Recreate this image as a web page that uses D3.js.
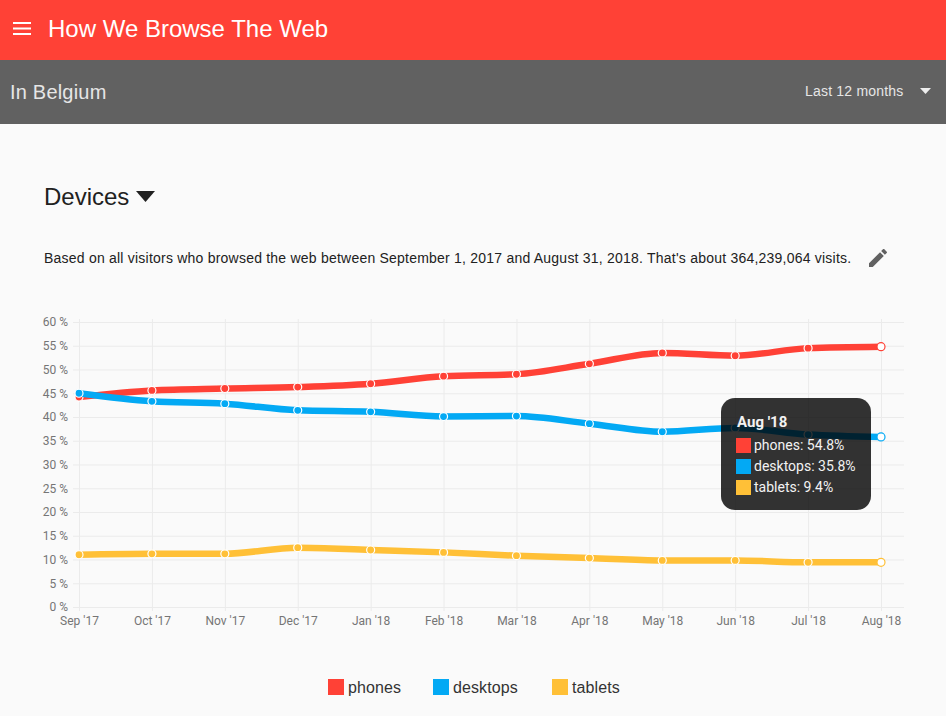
<!DOCTYPE html>
<html>
<head>
<meta charset="utf-8">
<script src="https://cdn.jsdelivr.net/npm/d3@7"></script>
<style>
    html, body { margin: 0; padding: 0; background: #fafafa; }
    svg { display: block; }
    text { font-family: "Liberation Sans", sans-serif; }
    .axis text { font-family: Roboto, sans-serif; font-size: 12px; fill: #757575; }
    .axis line { stroke: #ebebeb; }
    .axis path { display: none; }
    .tip text { font-family: Roboto, sans-serif; fill: #f2f2f2; }
</style>
</head>
<body>
<svg id="chart" width="946" height="716"></svg>
<script>
var months = ["Sep '17", "Oct '17", "Nov '17", "Dec '17", "Jan '18", "Feb '18", "Mar '18", "Apr '18", "May '18", "Jun '18", "Jul '18", "Aug '18"];
var phones = [44.2, 45.6, 46.0, 46.3, 47.0, 48.6, 49.0, 51.2, 53.5, 52.9, 54.5, 54.8];
var desktops = [45.0, 43.3, 42.8, 41.4, 41.1, 40.1, 40.2, 38.6, 36.9, 37.7, 36.3, 35.8];
var tablets = [11.0, 11.2, 11.2, 12.5, 12.0, 11.5, 10.8, 10.3, 9.8, 9.8, 9.4, 9.4];
var yTicks = [0, 5, 10, 15, 20, 25, 30, 35, 40, 45, 50, 55, 60];

var seriesNames = ['phones', 'desktops', 'tablets'];
var seriesValues = [phones, desktops, tablets];
var colors = ['#ff4136', '#03a9f4', '#ffc037'];
var tipLabels = ['54.8%', '35.8%', '9.4%'];

var svg = d3.select('#chart');

// header bars
svg.append('rect').attr('width', 946).attr('height', 60).attr('fill', '#ff4136');
svg.append('rect').attr('y', 60).attr('width', 946).attr('height', 64).attr('fill', '#616161');

svg.selectAll('.burger').data([23, 28.5, 34]).enter().append('rect')
    .attr('class', 'burger')
    .attr('x', 13).attr('y', function(d) { return d - 1; })
    .attr('width', 18).attr('height', 2)
    .attr('fill', '#fff');

function label(x, y, str, size, color, spacing) {
    return svg.append('text').attr('x', x).attr('y', y)
        .attr('font-size', size).attr('fill', color)
        .attr('letter-spacing', spacing || 0).text(str);
}

label(48, 37, 'How We Browse The Web', 24, '#fff');
label(10, 99, 'In Belgium', 20, '#e6e6e6', 0.2);
label(805, 96, 'Last 12 months', 14, '#e6e6e6', 0.2);
svg.append('path').attr('d', 'M920 88L931 88L925.5 94Z').attr('fill', '#eee');

label(44, 205, 'Devices', 24, '#212121');
svg.append('path').attr('d', 'M136 191L155 191L145.5 202Z').attr('fill', '#212121');

label(44, 263, "Based on all visitors who browsed the web between September 1, 2017 and August 31, 2018. That's about 364,239,064 visits.", 14, '#212121', 0.22);
svg.append('path')
    .attr('transform', 'translate(866,246)')
    .attr('fill', '#616161')
    .attr('d', 'M3 17.25V21h3.75L17.81 9.94l-3.75-3.75L3 17.25zM20.71 7.04c.39-.39.39-1.02 0-1.41l-2.34-2.34c-.39-.39-1.02-.39-1.41 0l-1.83 1.83 3.75 3.75 1.83-1.83z');

// scales
var x = d3.scalePoint().domain(months).range([79, 881]);
var y = d3.scaleLinear().domain([0, 60]).range([607, 322]);

// axes double as the grid, moved out a bit so the ticks stick past the plot
var yAxis = d3.axisLeft(y)
    .tickValues(yTicks)
    .tickSize(-831)
    .tickPadding(5)
    .tickFormat(function(d) { return d + ' %'; });
svg.append('g').attr('class', 'axis')
    .attr('transform', 'translate(73,0)')
    .call(yAxis);

var xAxis = d3.axisBottom(x)
    .tickSize(-292)
    .tickPadding(5);
svg.append('g').attr('class', 'axis')
    .attr('transform', 'translate(0,611)')
    .call(xAxis);

// lines, tablets first so phones and desktops sit on top
var line = d3.line()
    .x(function(d, i) { return x(months[i]); })
    .y(function(d) { return y(d); })
    .curve(d3.curveMonotoneX);

[2, 0, 1].forEach(function(s) {
    svg.append('path')
        .attr('d', line(seriesValues[s]))
        .attr('fill', 'none')
        .attr('stroke', colors[s])
        .attr('stroke-width', 6.5);

    svg.selectAll('.pt' + s).data(seriesValues[s]).enter().append('circle')
        .attr('class', 'pt' + s)
        .attr('cx', function(d, i) { return x(months[i]); })
        .attr('cy', function(d) { return y(d); })
        .attr('r', 4)
        .attr('fill', function(d, i) { return i == months.length - 1 ? '#fff' : colors[s]; })
        .attr('stroke', function(d, i) { return i == months.length - 1 ? colors[s] : '#fff'; })
        .attr('stroke-width', 1.2);
});

// tooltip on last month
var tip = svg.append('g').attr('class', 'tip').attr('transform', 'translate(721,398)');
tip.append('rect').attr('width', 150).attr('height', 112).attr('rx', 14)
    .attr('fill', 'rgba(0,0,0,0.8)');
tip.append('text').attr('x', 16).attr('y', 29)
    .attr('font-size', 15).attr('font-weight', 'bold').text(months[11]);
seriesNames.forEach(function(name, i) {
    tip.append('rect')
        .attr('x', 15).attr('y', 40 + i * 21)
        .attr('width', 15).attr('height', 15)
        .attr('fill', colors[i]);
    tip.append('text')
        .attr('x', 33).attr('y', 52 + i * 21)
        .attr('font-size', 14).text(name + ': ' + tipLabels[i]);
});

// legend
var legendX = [328, 433, 552];
seriesNames.forEach(function(name, i) {
    svg.append('rect')
        .attr('x', legendX[i]).attr('y', 679)
        .attr('width', 16).attr('height', 16)
        .attr('fill', colors[i]);
    label(legendX[i] + 20, 693, name, 16, '#333', 0.1);
});
</script>
</body>
</html>
